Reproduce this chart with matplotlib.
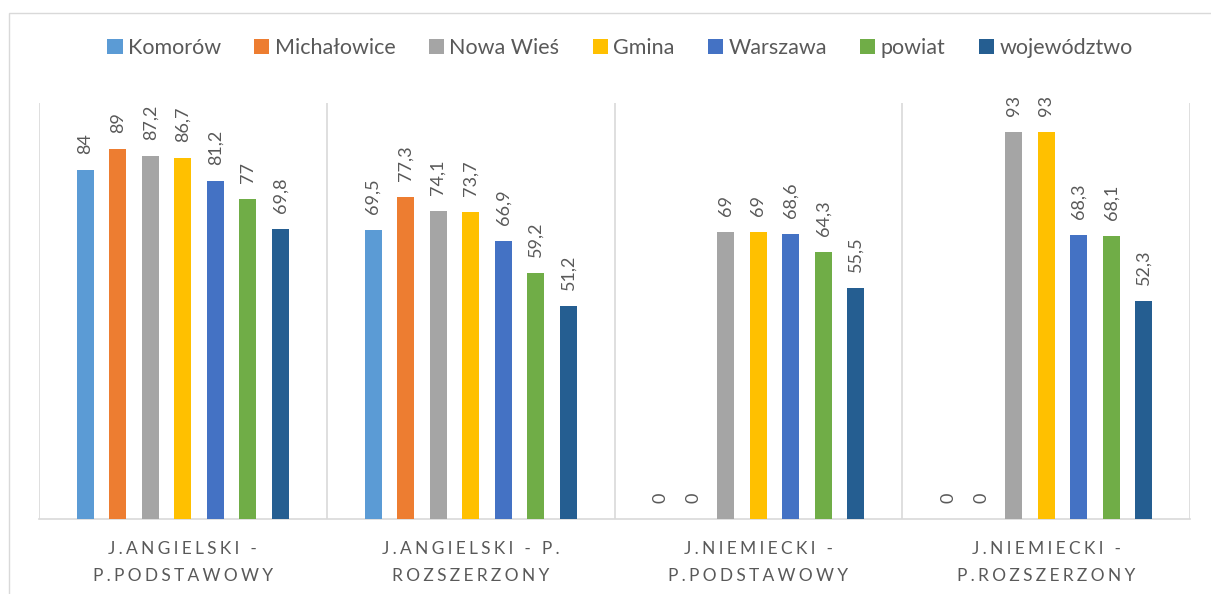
import matplotlib
matplotlib.use("Agg")
import matplotlib.pyplot as plt
import numpy as np
from matplotlib.patches import Rectangle

plt.rcParams['font.family'] = ['Lato', 'DejaVu Sans']

categories = ["J.ANGIELSKI -\nP.PODSTAWOWY", "J.ANGIELSKI - P.\nROZSZERZONY",
              "J.NIEMIECKI -\nP.PODSTAWOWY", "J.NIEMIECKI -\nP.ROZSZERZONY"]
series_names = ["Komorów", "Michałowice", "Nowa Wieś", "Gmina", "Warszawa", "powiat", "województwo"]
komorow = [84, 69.5, 0, 0]
michalowice = [89, 77.3, 0, 0]
nowa_wies = [87.2, 74.1, 69, 93]
gmina = [86.7, 73.7, 69, 93]
warszawa = [81.2, 66.9, 68.6, 68.3]
powiat = [77, 59.2, 64.3, 68.1]
wojewodztwo = [69.8, 51.2, 55.5, 52.3]
series = [komorow, michalowice, nowa_wies, gmina, warszawa, powiat, wojewodztwo]
colors = ["#5B9BD5", "#ED7D31", "#A5A5A5", "#FFC000", "#4472C4", "#70AD47", "#255E91"]

fig = plt.figure(figsize=(12.11, 5.94), dpi=100)
# outer chart border
fig.patches.append(Rectangle((9/1211, -0.1), 1.2, 1.1 - 13/594, transform=fig.transFigure,
                             fill=False, edgecolor="#D9D9D9", linewidth=1.0))
ax = fig.add_axes([39/1211, 1 - 519/594, (1190 - 39)/1211, (519 - 103)/594])

x = np.arange(len(categories))
slot = 0.113
width = 0.059
label_color = "#595959"
for i, (vals, col, name) in enumerate(zip(series, colors, series_names)):
    pos = x + (i - 3) * slot
    ax.bar(pos, vals, width=width, color=col, label=name, zorder=3)
    for p, v in zip(pos, vals):
        txt = f"{v:g}".replace(".", ",")
        ax.annotate(txt, (p, v), xytext=(0, 11.5), textcoords="offset points",
                    rotation=90, ha="center", va="bottom", fontsize=13, color=label_color)

ax.set_xlim(-0.5, len(categories) - 0.5)
ax.set_ylim(0, 100)
ax.set_yticks([])
for b in np.arange(-0.5, len(categories), 1.0):
    ax.axvline(b, color="#D9D9D9", linewidth=1.2, zorder=1)
for s in ["top", "right", "left"]:
    ax.spines[s].set_visible(False)
ax.spines["bottom"].set_color("#D9D9D9")
ax.spines["bottom"].set_linewidth(1.2)

def spaced(s):
    return "\n".join("\u2009\u200a".join(line) for line in s.split("\n"))

ax.set_xticks(x)
ax.set_xticklabels([spaced(c) for c in categories], fontsize=12.5, color=label_color,
                   linespacing=1.8)
ax.tick_params(axis="x", length=0, pad=16)

fig.legend(loc="center", bbox_to_anchor=(0.512, 1 - 48/594), ncol=7, frameon=False,
           fontsize=15.5, handlelength=0.7, handleheight=0.7, handletextpad=0.25,
           columnspacing=1.55, labelcolor=label_color)

fig.savefig("out.png", dpi=100)
